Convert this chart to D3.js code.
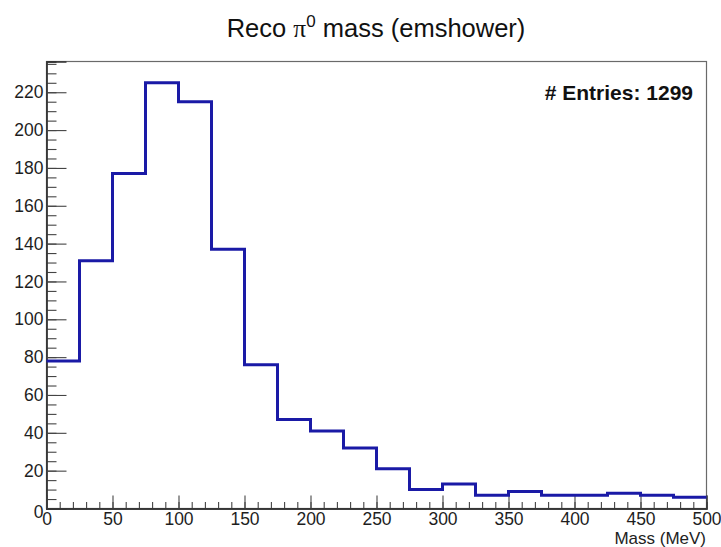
<!DOCTYPE html>
<html>
<head>
<meta charset="utf-8">
<script src="https://cdn.jsdelivr.net/npm/d3@7"></script>
<style>
  html, body { margin: 0; padding: 0; background: #fff; }
  svg { display: block; }
  text { font-family: "Liberation Sans", Arial, Helvetica, sans-serif; }
</style>
</head>
<body>
<svg id="chart" width="721" height="547"></svg>
<script>
// Reconstructed pi0 invariant mass, 25 MeV bins from 0 to 500 MeV
const binEdges = [0, 25, 50, 75, 100, 125, 150, 175, 200, 225, 250, 275, 300, 325, 350, 375, 400, 425, 450, 475, 500];
const binCounts = [78, 131, 177, 225, 215, 137, 76, 47, 41, 32, 21, 10, 13, 7, 9, 7, 7, 8, 7, 6];
const entries = 1299;
const xTicks = [0, 50, 100, 150, 200, 250, 300, 350, 400, 450, 500];
const yTicks = [0, 20, 40, 60, 80, 100, 120, 140, 160, 180, 200, 220];
const xMinorTicks = d3.range(0, 501, 10);
const yMinorTicks = d3.range(0, 236, 5);

const svg = d3.select("#chart");
const frame = { left: 46.5, right: 706.5, top: 61.5, bottom: 508.5 };

const x = d3.scaleLinear().domain([0, 500]).range([frame.left, frame.right]);
const y = d3.scaleLinear().domain([0, 236.25]).range([frame.bottom, frame.top]);

// Frame
svg.append("rect")
  .attr("x", frame.left).attr("y", frame.top)
  .attr("width", frame.right - frame.left)
  .attr("height", frame.bottom - frame.top)
  .attr("fill", "#fff")
  .attr("stroke", "#6a6a6a")
  .attr("stroke-width", 1.2);

// Minor ticks (drawn inward)
const yMinor = svg.append("g").attr("transform", `translate(${frame.left},0)`)
  .call(d3.axisLeft(y).tickValues(yMinorTicks).tickSize(-10).tickFormat(""));
const xMinor = svg.append("g").attr("transform", `translate(0,${frame.bottom})`)
  .call(d3.axisBottom(x).tickValues(xMinorTicks).tickSize(-6.5).tickFormat(""));

// Major ticks with labels
const yAxis = svg.append("g").attr("transform", `translate(${frame.left},0)`)
  .call(d3.axisLeft(y).tickValues(yTicks).tickSize(-20).tickPadding(3).tickFormat(d3.format("d")));
const xAxis = svg.append("g").attr("transform", `translate(0,${frame.bottom})`)
  .call(d3.axisBottom(x).tickValues(xTicks).tickSize(-13).tickPadding(4.5).tickFormat(d3.format("d")));

[yMinor, xMinor, yAxis, xAxis].forEach(g => {
  g.select(".domain").attr("stroke", "#333").attr("stroke-width", 1.3);
  g.selectAll(".tick line").attr("stroke", "#444").attr("stroke-width", 1.1);
});
[yAxis, xAxis].forEach(g => {
  g.selectAll(".tick text")
    .attr("fill", "#1e1e1e")
    .style("font-size", "17.5px")
    .style("font-family", "'Liberation Sans', Arial, sans-serif");
});
yAxis.selectAll(".tick text").filter(d => d === 0).attr("dy", "0.5em");

// Histogram outline
const stepPoints = binCounts.map((v, i) => [binEdges[i], v]);
stepPoints.push([binEdges[binEdges.length - 1], binCounts[binCounts.length - 1]]);
const stepLine = d3.line()
  .x(d => x(d[0]))
  .y(d => y(d[1]))
  .curve(d3.curveStepAfter);
svg.append("path")
  .datum(stepPoints)
  .attr("d", stepLine)
  .attr("fill", "none")
  .attr("stroke", "#1a1aa6")
  .attr("stroke-width", 3)
  .attr("stroke-linejoin", "miter");

// Title
const title = svg.append("text")
  .attr("x", 376).attr("y", 37)
  .attr("text-anchor", "middle")
  .attr("fill", "#111")
  .style("font-size", "25.5px");
title.append("tspan").text("Reco ");
title.append("tspan").style("font-family", "'Liberation Serif', 'Times New Roman', serif").text("π");
title.append("tspan").attr("dy", -10).style("font-size", "17px").text("0");
title.append("tspan").attr("dy", 10).text(" mass (emshower)");

// Statistics box text
svg.append("text")
  .attr("x", 693).attr("y", 100)
  .attr("text-anchor", "end")
  .attr("fill", "#111")
  .style("font-size", "21px")
  .style("font-weight", "bold")
  .text(`# Entries: ${entries}`);

// Axis title
svg.append("text")
  .attr("x", 706).attr("y", 543.5)
  .attr("text-anchor", "end")
  .attr("fill", "#222")
  .style("font-size", "17px")
  .text("Mass (MeV)");
</script>
</body>
</html>
